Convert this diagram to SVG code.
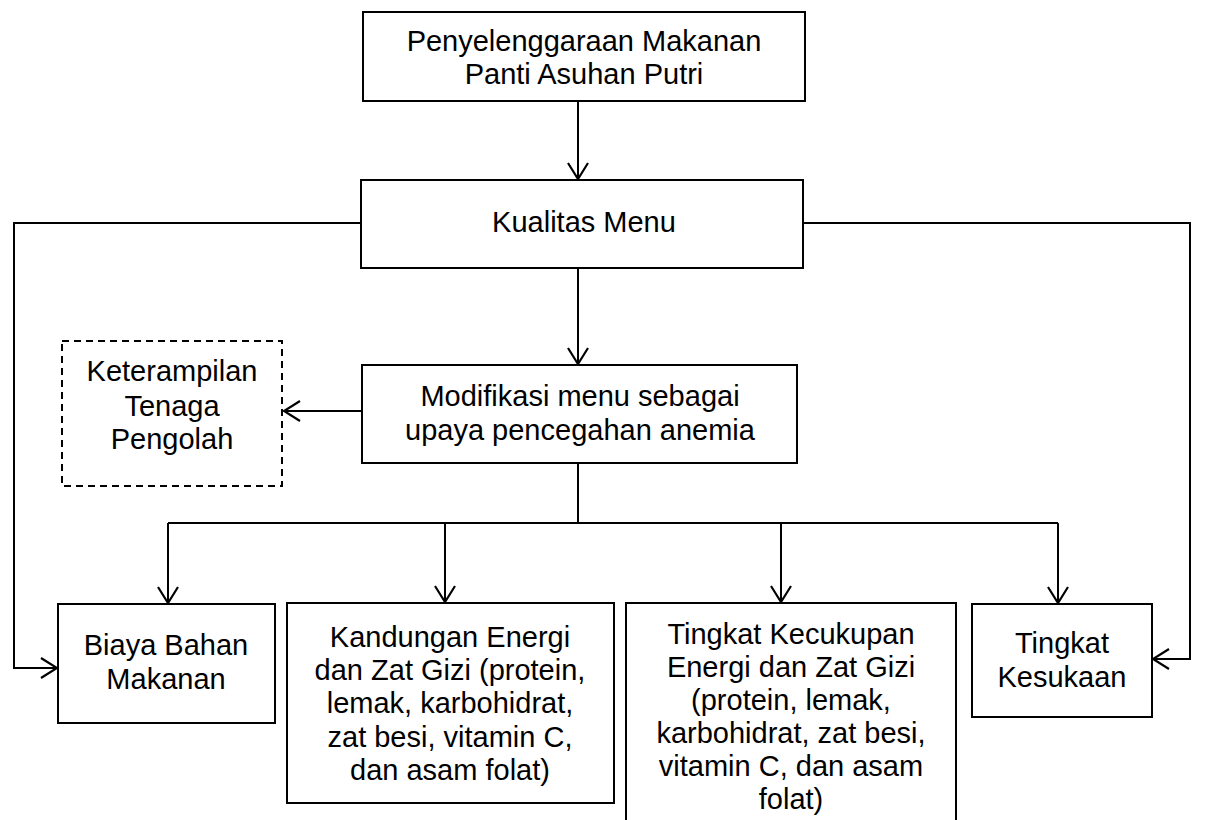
<svg xmlns="http://www.w3.org/2000/svg" width="1214" height="820" viewBox="0 0 1214 820">
<style>
.box{fill:#fff;stroke:#000;stroke-width:2}
.dash{fill:#fff;stroke:#000;stroke-width:2;stroke-dasharray:7,5}
.t{font-family:"Liberation Sans",Arial,sans-serif;font-size:29px;fill:#000;text-anchor:middle}
.c{fill:none;stroke:#000;stroke-width:2}
</style>
<defs>
<marker id="ah" viewBox="0 0 20 22" refX="18" refY="11" markerWidth="20" markerHeight="22" markerUnits="userSpaceOnUse" orient="auto">
<path d="M2,1 L18,11 L2,21" fill="none" stroke="#000" stroke-width="2.2"/>
</marker>
</defs>
<rect width="1214" height="820" fill="#fff"/>
<g id="connectors">
<path class="c" d="M578,101 V179" marker-end="url(#ah)"/>
<path class="c" d="M578,268 V364" marker-end="url(#ah)"/>
<path class="c" d="M362,411 H284" marker-end="url(#ah)"/>
<path class="c" d="M361,223 H14 V668 H57" marker-end="url(#ah)"/>
<path class="c" d="M803,223 H1190 V659 H1153" marker-end="url(#ah)"/>
<path class="c" d="M578,463 V523"/>
<path class="c" d="M168,523 H1058"/>
<path class="c" d="M168,523 V603" marker-end="url(#ah)"/>
<path class="c" d="M445,523 V602" marker-end="url(#ah)"/>
<path class="c" d="M781,523 V602" marker-end="url(#ah)"/>
<path class="c" d="M1058,523 V603" marker-end="url(#ah)"/>
</g>
<g id="penyelenggaraan">
<rect class="box" x="363" y="12" width="442" height="89"/>
<text class="t" x="584" y="51">Penyelenggaraan Makanan</text>
<text class="t" x="584" y="84">Panti Asuhan Putri</text>
</g>
<g id="kualitas">
<rect class="box" x="361" y="180" width="442" height="88"/>
<text class="t" x="584" y="232">Kualitas Menu</text>
</g>
<g id="modifikasi">
<rect class="box" x="362" y="365" width="435" height="98"/>
<text class="t" x="580" y="406">Modifikasi menu sebagai</text>
<text class="t" x="580" y="440">upaya pencegahan anemia</text>
</g>
<g id="keterampilan">
<rect class="dash" x="62" y="341" width="220" height="145"/>
<text class="t" x="172" y="381">Keterampilan</text>
<text class="t" x="172" y="416">Tenaga</text>
<text class="t" x="172" y="449">Pengolah</text>
</g>
<g id="biaya">
<rect class="box" x="58" y="604" width="217" height="119"/>
<text class="t" x="166" y="655">Biaya Bahan</text>
<text class="t" x="166" y="689">Makanan</text>
</g>
<g id="kandungan">
<rect class="box" x="287" y="603" width="327" height="200"/>
<text class="t" x="450" y="647">Kandungan Energi</text>
<text class="t" x="450" y="680">dan Zat Gizi (protein,</text>
<text class="t" x="450" y="713">lemak, karbohidrat,</text>
<text class="t" x="450" y="747">zat besi, vitamin C,</text>
<text class="t" x="450" y="780">dan asam folat)</text>
</g>
<g id="kecukupan">
<rect class="box" x="626" y="603" width="330" height="225"/>
<text class="t" x="791" y="644">Tingkat Kecukupan</text>
<text class="t" x="791" y="677">Energi dan Zat Gizi</text>
<text class="t" x="791" y="710">(protein, lemak,</text>
<text class="t" x="791" y="743">karbohidrat, zat besi,</text>
<text class="t" x="791" y="776">vitamin C, dan asam</text>
<text class="t" x="791" y="809">folat)</text>
</g>
<g id="kesukaan">
<rect class="box" x="972" y="604" width="180" height="113"/>
<text class="t" x="1062" y="653">Tingkat</text>
<text class="t" x="1062" y="687">Kesukaan</text>
</g>
</svg>
